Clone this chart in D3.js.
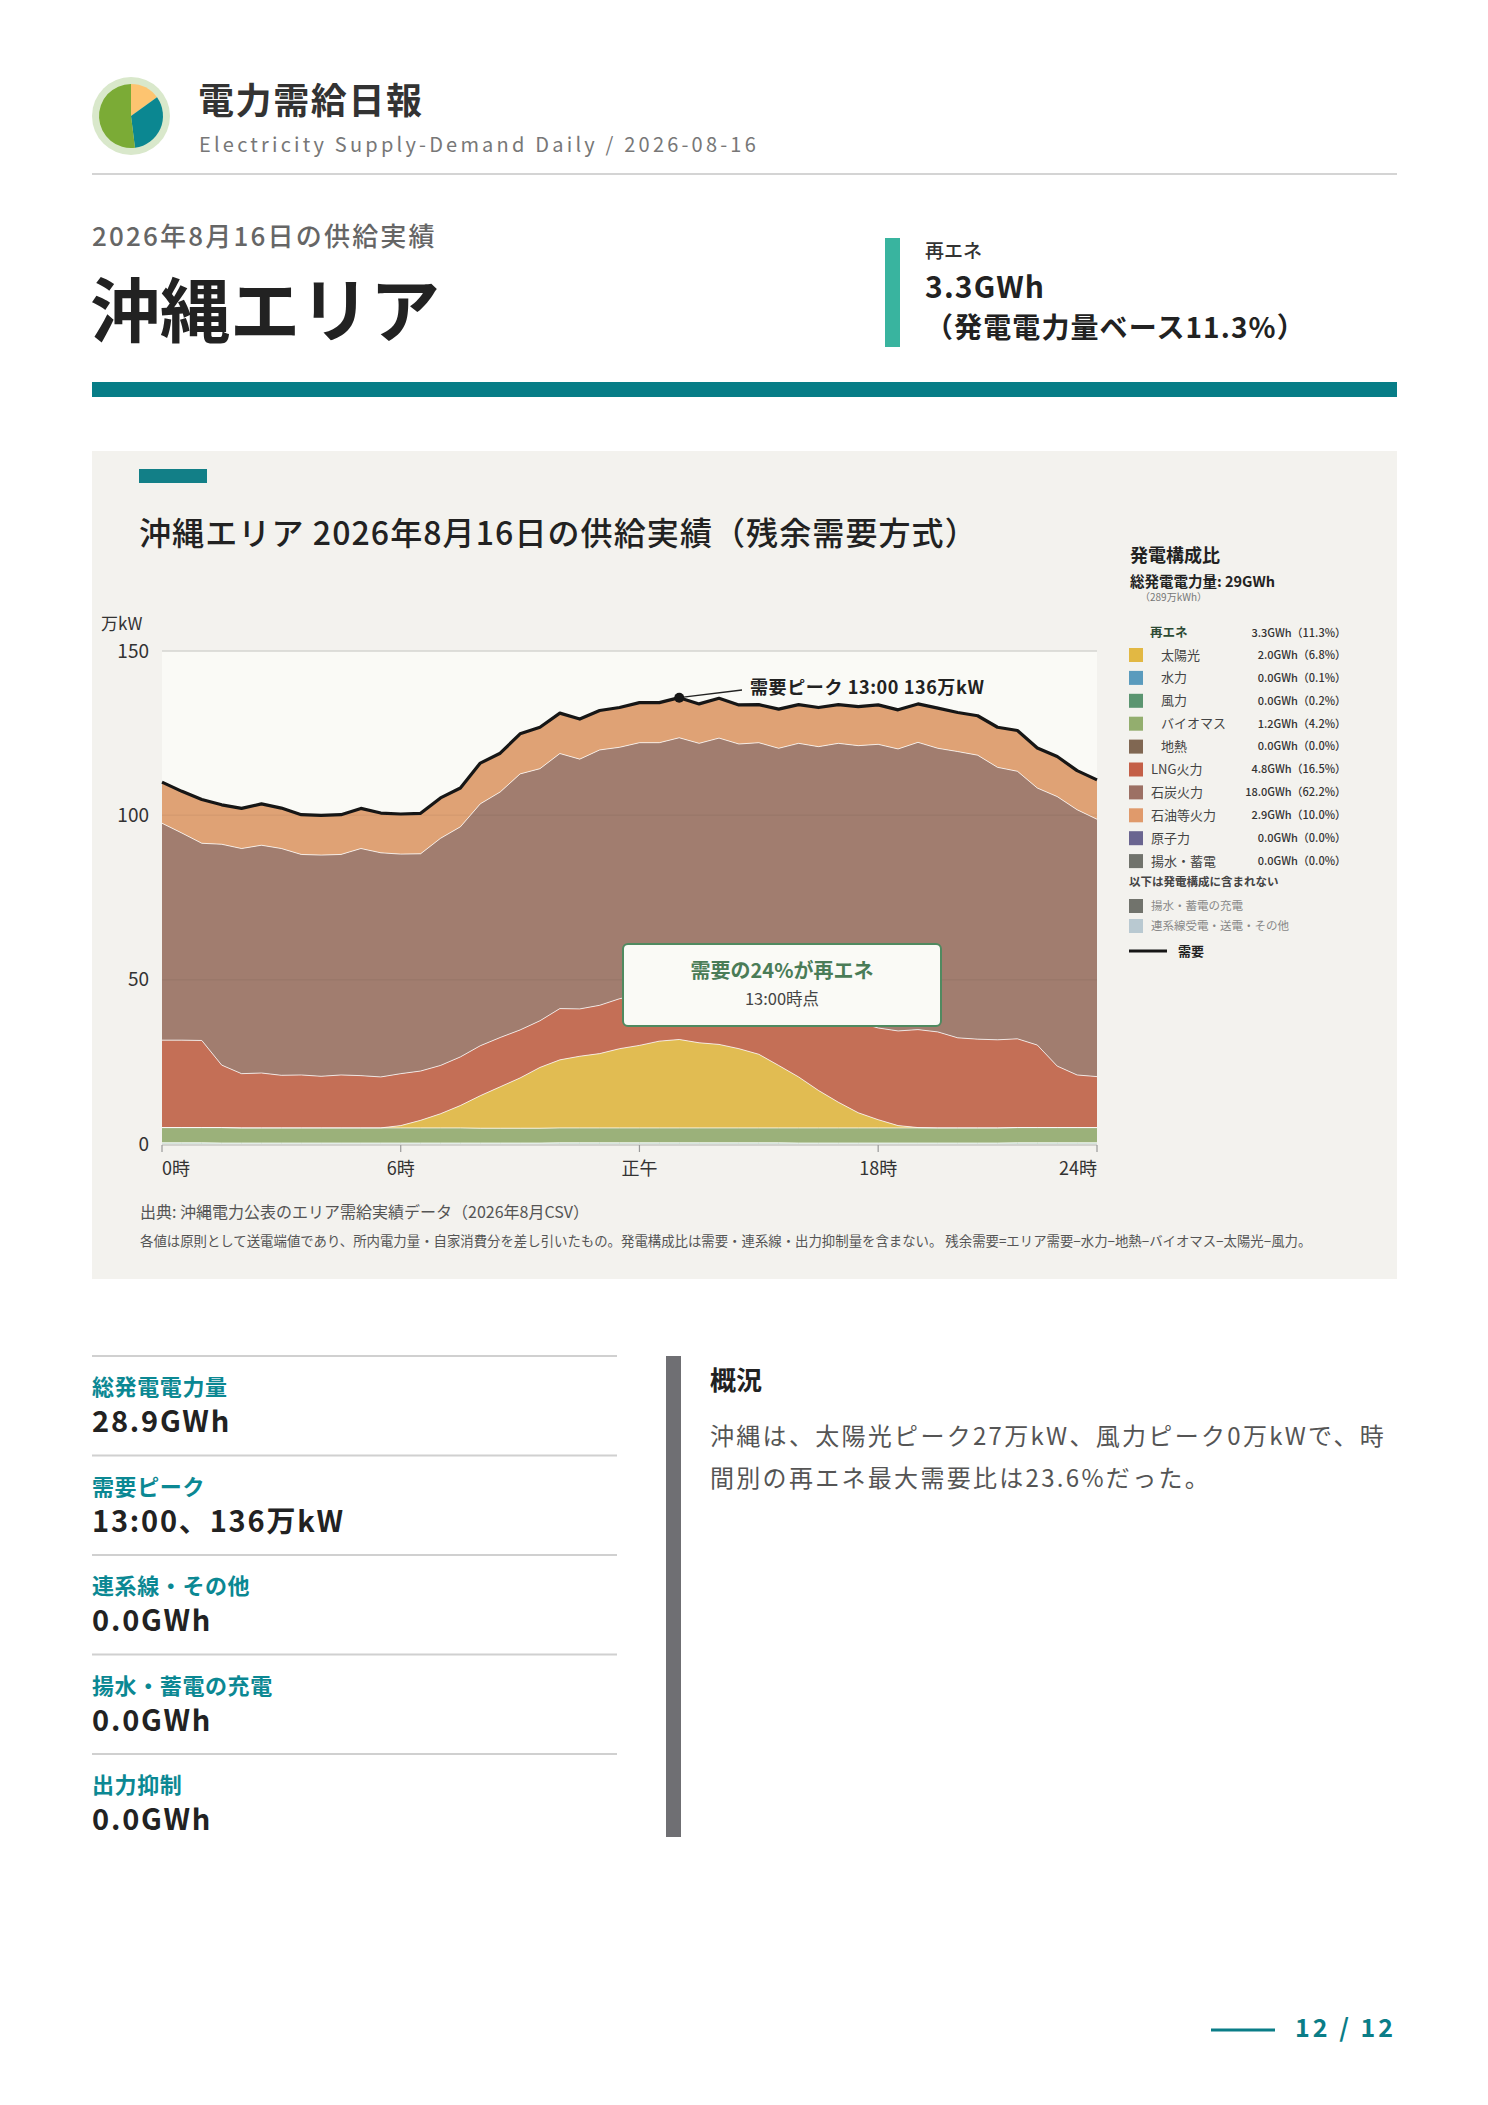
<!DOCTYPE html>
<html><head><meta charset="utf-8">
<script src="https://cdn.jsdelivr.net/npm/d3@7/dist/d3.min.js"></script>
<style>
html,body{margin:0;padding:0;background:#fff;}
svg{display:block;}
</style></head>
<body>
<script>
// ---------------- DATA ----------------
const slotCount = 48; // 30-minute slots
const demand = [110.1,107.3,104.8,103.2,102.1,103.5,102.2,100.2,100.0,100.2,102.1,100.7,100.4,100.6,105.3,108.3,115.9,118.9,124.8,126.8,131.1,129.3,131.9,132.8,134.3,134.3,135.8,133.9,135.6,133.6,133.7,132.3,133.7,132.8,133.7,133.1,133.6,132.1,133.9,132.6,131.3,130.3,126.8,125.8,120.5,117.9,113.6,110.8];
const hydro = [0.1,0.1,0.1,0.1,0.1,0.1,0.1,0.1,0.1,0.1,0.1,0.1,0.1,0.1,0.1,0.1,0.1,0.1,0.1,0.1,0.1,0.1,0.1,0.1,0.1,0.1,0.1,0.1,0.1,0.1,0.1,0.1,0.1,0.1,0.1,0.1,0.1,0.1,0.1,0.1,0.1,0.1,0.1,0.1,0.1,0.1,0.1,0.1];
const wind = [0.3,0.3,0.3,0.2,0.2,0.2,0.2,0.2,0.2,0.2,0.2,0.2,0.2,0.2,0.2,0.2,0.2,0.2,0.2,0.2,0.3,0.3,0.3,0.3,0.3,0.3,0.3,0.3,0.3,0.3,0.3,0.3,0.2,0.2,0.2,0.2,0.2,0.2,0.2,0.2,0.2,0.2,0.2,0.3,0.3,0.3,0.3,0.3];
const biomass = [4.6,4.6,4.6,4.7,4.6,4.6,4.6,4.6,4.6,4.6,4.6,4.6,4.6,4.6,4.6,4.6,4.5,4.5,4.5,4.5,4.5,4.5,4.5,4.5,4.5,4.5,4.5,4.5,4.5,4.5,4.5,4.5,4.6,4.6,4.6,4.6,4.6,4.6,4.6,4.6,4.6,4.6,4.6,4.6,4.6,4.6,4.6,4.6];
const solar = [0,0,0,0,0,0,0,0,0,0,0,0,0.7,2.3,4.3,6.8,9.9,12.6,15.3,18.5,20.7,21.8,22.6,24.1,25.1,26.4,26.9,25.9,25.4,24.1,22.4,19.0,15.5,11.4,7.8,4.6,2.5,0.7,0.1,0,0,0,0,0,0,0,0,0];
const lng = [26.6,26.6,26.5,19.0,16.5,16.7,16.0,16.1,15.7,16.1,15.9,15.5,15.8,15.0,14.7,14.8,15.2,15.0,14.6,14.2,15.6,14.4,14.7,15.2,15.5,16.0,16.5,17.0,18.0,19.0,20.5,22.0,23.5,25.0,26.5,27.5,27.9,28.8,29.8,29.2,27.4,27.0,26.8,27.0,25.1,18.7,16.0,15.5];
const coal = [66.0,63.0,60.0,67.2,68.5,69.3,69.0,67.1,67.3,67.1,69.1,68.2,66.8,66.1,69.1,70.0,73.6,74.7,77.9,76.7,77.6,76.0,77.7,76.5,76.6,74.8,75.3,74.1,75.2,73.7,74.3,74.5,78.0,79.6,82.7,84.2,86.3,85.8,87.4,86.3,87.1,86.4,82.9,81.4,78.2,82.0,80.7,78.3];
const oil = [12.6,12.8,13.4,12.1,12.2,12.6,12.3,12.1,12.1,12.1,12.2,12.1,12.2,12.3,12.3,11.8,12.3,11.7,12.1,12.5,12.3,12.2,12.0,12.1,12.2,12.2,12.2,12.0,12.1,11.9,11.6,11.9,11.8,11.9,11.8,11.9,12.0,11.9,11.7,12.2,11.9,12.0,12.2,12.5,12.3,12.3,12.0,12.1];

const yTicks = [0,50,100,150];
const xTickSlots = [0,12,24,36,47];
const xTickLabels = ["0時","6時","正午","18時","24時"];

const peakSlot = 26;
const peakLabel = "需要ピーク 13:00 136万kW";

const legendNames = ["太陽光","水力","風力","バイオマス","地熱","LNG火力","石炭火力","石油等火力","原子力","揚水・蓄電"];
const legendValues = ["2.0GWh（6.8%）","0.0GWh（0.1%）","0.0GWh（0.2%）","1.2GWh（4.2%）","0.0GWh（0.0%）","4.8GWh（16.5%）","18.0GWh（62.2%）","2.9GWh（10.0%）","0.0GWh（0.0%）","0.0GWh（0.0%）"];
const legendIndent = [true,true,true,true,true,false,false,false,false,false];
const legendColors = ["#e2b843","#5a9bbd","#5b9570","#93ae6e","#806752","#c45f47","#9c7064","#e09a6b","#6a6590","#71736c"];
const extraNames = ["揚水・蓄電の充電","連系線受電・送電・その他"];
const extraColors = ["#71736c","#b9c9d1"];

const statLabels = ["総発電電力量","需要ピーク","連系線・その他","揚水・蓄電の充電","出力抑制"];
const statValues = ["28.9GWh","13:00、136万kW","0.0GWh","0.0GWh","0.0GWh"];

const logoShares = [15.1, 32.9, 52.0];
const logoColors = ["#fdc470","#0b8791","#7bab36"];

// ---------------- DRAW ----------------
const FF = "'Noto Sans CJK JP','Noto Sans',sans-serif";
const svg = d3.select("body").append("svg")
  .attr("width",1488).attr("height",2105)
  .style("font-family",FF);
svg.append("rect").attr("width",1488).attr("height",2105).attr("fill","#fff");

// logo
const lg = svg.append("g").attr("transform","translate(131,116)");
lg.append("circle").attr("r",39).attr("fill","#d9e8cb");
const pie = d3.pie().sort(null).value(d=>d);
const arc = d3.arc().innerRadius(0).outerRadius(32);
lg.selectAll("path").data(pie(logoShares)).join("path")
  .attr("d",arc).attr("fill",(d,i)=>logoColors[i]);

svg.append("text").attr("x",198).attr("y",114).attr("font-size",36).attr("font-weight",700)
  .attr("letter-spacing",1.6).attr("fill","#333").text("電力需給日報");
svg.append("text").attr("x",199).attr("y",152).attr("font-size",20).attr("letter-spacing",3.2)
  .attr("fill","#777").text("Electricity Supply-Demand Daily / 2026-08-16");
svg.append("line").attr("x1",92).attr("x2",1397).attr("y1",174).attr("y2",174)
  .attr("stroke","#d4d4d4").attr("stroke-width",2);

svg.append("text").attr("x",92).attr("y",246).attr("font-size",26).attr("font-weight",500)
  .attr("letter-spacing",2.2).attr("fill","#666").text("2026年8月16日の供給実績");
svg.append("text").attr("x",90).attr("y",337).attr("font-size",70).attr("font-weight",700)
  .attr("fill","#222").text("沖縄エリア");

svg.append("rect").attr("x",885).attr("y",238).attr("width",15).attr("height",109).attr("fill","#39b49f");
svg.append("text").attr("x",925).attr("y",258).attr("font-size",19).attr("font-weight",500).attr("fill","#333").text("再エネ");
svg.append("text").attr("x",925).attr("y",298).attr("font-size",30).attr("font-weight",700).attr("letter-spacing",1.2).attr("fill","#222").text("3.3GWh");
svg.append("text").attr("x",925).attr("y",338).attr("font-size",28).attr("font-weight",700).attr("letter-spacing",1.1).attr("fill","#222").text("（発電電力量ベース11.3%）");

svg.append("rect").attr("x",92).attr("y",382).attr("width",1305).attr("height",15).attr("fill","#077d87");

// chart panel
svg.append("rect").attr("x",92).attr("y",451).attr("width",1305).attr("height",828).attr("fill","#f3f2ee");
svg.append("rect").attr("x",139).attr("y",469).attr("width",68).attr("height",14).attr("fill","#127f87");
svg.append("text").attr("x",139).attr("y",545).attr("font-size",32).attr("font-weight",500).attr("letter-spacing",1.1)
  .attr("fill","#222").text("沖縄エリア 2026年8月16日の供給実績（残余需要方式）");

const x = d3.scaleLinear().domain([0,slotCount-1]).range([162,1097]);
const y = d3.scaleLinear().domain([0,150]).range([1144,651]);

svg.append("rect").attr("x",162).attr("y",651).attr("width",935).attr("height",493).attr("fill","#fafaf6");

const rows = d3.range(slotCount).map(i=>({hydro:hydro[i],wind:wind[i],biomass:biomass[i],solar:solar[i],lng:lng[i],coal:coal[i],oil:oil[i]}));
const keys = ["hydro","wind","biomass","solar","lng","coal","oil"];
const fills = {hydro:"#6aa3c2",wind:"#6aa07c",biomass:"#9bb17a",solar:"#e1bc52",lng:"#c46f56",coal:"#a17d6f",oil:"#dfa275"};
const series = d3.stack().keys(keys)(rows);
const area = d3.area().x((d,i)=>x(i)).y0(d=>y(d[0])).y1(d=>y(d[1]));
const topLine = d3.line().x((d,i)=>x(i)).y(d=>y(d[1]));
const pg = svg.append("g");
pg.selectAll("path.area").data(series).join("path").attr("class","area")
  .attr("d",area).attr("fill",d=>fills[d.key]);
pg.selectAll("path.top").data(series).join("path").attr("class","top")
  .attr("d",topLine).attr("fill","none").attr("stroke","#fff").attr("stroke-opacity",0.75).attr("stroke-width",1);

// grid
svg.append("g").selectAll("line").data(yTicks.filter(t=>t>0)).join("line")
  .attr("x1",162).attr("x2",1097).attr("y1",d=>y(d)).attr("y2",d=>y(d))
  .attr("stroke",d=>d===150?"#d4d4d0":"rgba(0,0,0,0.04)").attr("stroke-width",1.5);

// y axis labels
svg.append("g").selectAll("text").data(yTicks).join("text")
  .attr("x",149).attr("y",d=>y(d)).attr("dy","0.35em").attr("text-anchor","end")
  .attr("font-size",19).attr("fill","#333").text(d=>d);
svg.append("text").attr("x",101).attr("y",630).attr("font-size",17).attr("fill","#333").text("万kW");

// x axis
svg.append("line").attr("x1",162).attr("x2",1097).attr("y1",1145).attr("y2",1145).attr("stroke","#c8c8c4").attr("stroke-width",1.5);
const xg = svg.append("g");
xg.selectAll("line").data(xTickSlots).join("line")
  .attr("x1",d=>x(d)).attr("x2",d=>x(d)).attr("y1",1145).attr("y2",1152).attr("stroke","#999").attr("stroke-width",1.2);
xg.selectAll("text").data(xTickSlots).join("text")
  .attr("x",d=>x(d)).attr("y",1175).attr("font-size",18).attr("fill","#333")
  .attr("text-anchor",(d,i)=>i===0?"start":(i===xTickSlots.length-1?"end":"middle"))
  .text((d,i)=>xTickLabels[i]);

// demand line
svg.append("path").datum(demand)
  .attr("d",d3.line().x((d,i)=>x(i)).y(d=>y(d)))
  .attr("fill","none").attr("stroke","#161616").attr("stroke-width",3.2).attr("stroke-linejoin","round");

// peak annotation
const px = x(peakSlot), py = y(demand[peakSlot]);
svg.append("line").attr("x1",px).attr("y1",py).attr("x2",742).attr("y2",690).attr("stroke","#222").attr("stroke-width",1.3);
svg.append("circle").attr("cx",px).attr("cy",py).attr("r",5).attr("fill","#161616");
svg.append("text").attr("x",750).attr("y",694).attr("font-size",18).attr("font-weight",700).attr("letter-spacing",0.6).attr("fill","#222").text(peakLabel);

// renewable share box
svg.append("rect").attr("x",623).attr("y",944).attr("width",318).attr("height",82).attr("rx",5)
  .attr("fill","#fafaf6").attr("stroke","#4f8a60").attr("stroke-width",2);
svg.append("text").attr("x",782).attr("y",978).attr("text-anchor","middle").attr("font-size",20).attr("font-weight",700)
  .attr("fill","#4a7c57").text("需要の24%が再エネ");
svg.append("text").attr("x",782).attr("y",1005).attr("text-anchor","middle").attr("font-size",16.5)
  .attr("fill","#444").text("13:00時点");

// legend
const L = svg.append("g");
L.append("text").attr("x",1130).attr("y",562).attr("font-size",18).attr("font-weight",700).attr("fill","#222").text("発電構成比");
L.append("text").attr("x",1130).attr("y",587).attr("font-size",14.5).attr("font-weight",700).attr("fill","#222").text("総発電電力量: 29GWh");
L.append("text").attr("x",1140).attr("y",601).attr("font-size",10).attr("fill","#777").text("（289万kWh）");
L.append("text").attr("x",1150).attr("y",633).attr("dy","0.35em").attr("font-size",12.5).attr("font-weight",700).attr("fill","#2c4a34").text("再エネ");
L.append("text").attr("x",1346).attr("y",633).attr("dy","0.35em").attr("text-anchor","end").attr("font-size",11).attr("font-weight",500).attr("fill","#333").text("3.3GWh（11.3%）");
const lr = L.selectAll("g.row").data(legendNames).join("g").attr("class","row")
  .attr("transform",(d,i)=>`translate(0,${655+22.9*i})`);
lr.append("rect").attr("x",1129).attr("y",-7).attr("width",14).attr("height",14).attr("fill",(d,i)=>legendColors[i]);
lr.append("text").attr("x",(d,i)=>legendIndent[i]?1161:1151).attr("dy","0.35em").attr("font-size",13).attr("fill","#444").text(d=>d);
lr.append("text").attr("x",1346).attr("dy","0.35em").attr("text-anchor","end").attr("font-size",11).attr("font-weight",500).attr("fill","#333").text((d,i)=>legendValues[i]);
L.append("text").attr("x",1129).attr("y",882).attr("dy","0.35em").attr("font-size",11.5).attr("font-weight",700).attr("fill","#444").text("以下は発電構成に含まれない");
const er = L.selectAll("g.extra").data(extraNames).join("g").attr("class","extra")
  .attr("transform",(d,i)=>`translate(0,${906+20*i})`);
er.append("rect").attr("x",1129).attr("y",-7).attr("width",14).attr("height",14).attr("fill",(d,i)=>extraColors[i]);
er.append("text").attr("x",1151).attr("dy","0.35em").attr("font-size",11.5).attr("fill","#888").text(d=>d);
L.append("line").attr("x1",1129).attr("x2",1167).attr("y1",951).attr("y2",951).attr("stroke","#161616").attr("stroke-width",3.2);
L.append("text").attr("x",1178).attr("y",951).attr("dy","0.35em").attr("font-size",13).attr("font-weight",700).attr("fill","#222").text("需要");

// footnotes
svg.append("text").attr("x",140).attr("y",1218).attr("font-size",16).attr("fill","#555").text("出典: 沖縄電力公表のエリア需給実績データ（2026年8月CSV）");
svg.append("text").attr("x",140).attr("y",1246).attr("font-size",13.4).attr("fill","#555").text("各値は原則として送電端値であり、所内電力量・自家消費分を差し引いたもの。発電構成比は需要・連系線・出力抑制量を含まない。 残余需要=エリア需要−水力−地熱−バイオマス−太陽光−風力。");

// stats
const sg = svg.append("g");
const blocks = sg.selectAll("g").data(statLabels).join("g").attr("transform",(d,i)=>`translate(0,${99.5*i})`);
blocks.append("line").attr("x1",92).attr("x2",617).attr("y1",1356).attr("y2",1356).attr("stroke","#d0d0d0").attr("stroke-width",2);
blocks.append("text").attr("x",92).attr("y",1395).attr("font-size",22).attr("font-weight",700).attr("letter-spacing",0.6).attr("fill","#0b8893").text(d=>d);
blocks.append("text").attr("x",92).attr("y",1432).attr("font-size",29).attr("font-weight",700).attr("letter-spacing",1.8).attr("fill","#222").text((d,i)=>statValues[i]);

svg.append("rect").attr("x",666).attr("y",1356).attr("width",15).attr("height",481).attr("fill","#6f6f73");
svg.append("text").attr("x",710).attr("y",1390).attr("font-size",26).attr("font-weight",700).attr("fill","#222").text("概況");
svg.append("text").attr("x",710).attr("y",1445).attr("font-size",24).attr("letter-spacing",2.3).attr("fill","#555").text("沖縄は、太陽光ピーク27万kW、風力ピーク0万kWで、時");
svg.append("text").attr("x",710).attr("y",1487).attr("font-size",24).attr("letter-spacing",2.3).attr("fill","#555").text("間別の再エネ最大需要比は23.6%だった。");

// page number
svg.append("line").attr("x1",1211).attr("x2",1275).attr("y1",2030).attr("y2",2030).attr("stroke","#0a7d87").attr("stroke-width",3);
svg.append("text").attr("x",1295).attr("y",2037).attr("font-size",25).attr("font-weight",700).attr("letter-spacing",3).attr("fill","#0a7d87").text("12 / 12");
</script>
</body></html>
